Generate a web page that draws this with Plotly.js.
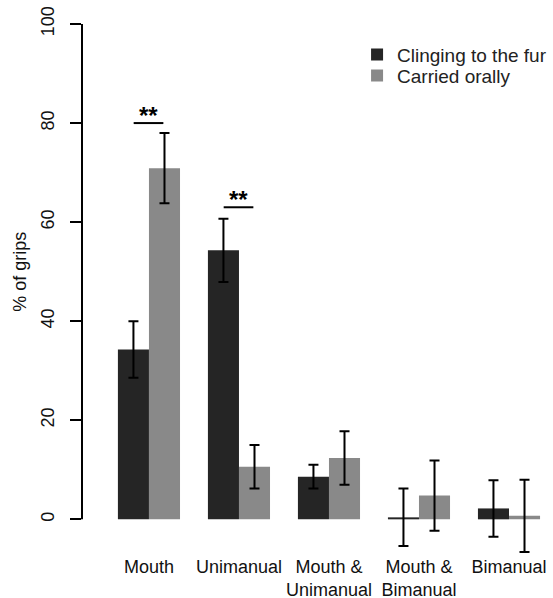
<!DOCTYPE html>
<html>
<head>
<meta charset="utf-8">
<script src="https://cdn.plot.ly/plotly-3.0.1.min.js"></script>
<style>html,body{margin:0;padding:0;background:#fff;}#chart{width:553px;height:598px;}</style>
</head>
<body>
<div id="chart"></div>
<script>
var categories = ["Mouth", "Unimanual", "Mouth &<br>Unimanual", "Mouth &<br>Bimanual", "Bimanual"];
var seriesNames = ["Clinging to the fur", "Carried orally"];
var clinging = [34.3, 54.3, 8.6, 0.4, 2.2];
var clingingErr = [5.7, 6.4, 2.4, 5.8, 5.7];
var carried = [70.9, 10.6, 12.4, 4.8, 0.7];
var carriedErr = [7.1, 4.4, 5.4, 7.1, 7.3];
var yTicks = [0, 20, 40, 60, 80, 100];
var sigCategories = [0, 1];
var sigLevels = [80, 63];
var sigLabels = ["**", "**"];

var xIdx = categories.map(function(c, i){ return i; });
var FONT = "Liberation Sans, Arial, sans-serif";

var traces = [
  {type: "bar", name: seriesNames[0], x: xIdx, y: clinging, legend: "legend",
   marker: {color: "#252525"},
   error_y: {type: "data", array: clingingErr, visible: true, color: "#000", thickness: 2, width: 5}},
  {type: "bar", name: seriesNames[1], x: xIdx, y: carried, legend: "legend2",
   marker: {color: "#898989"},
   error_y: {type: "data", array: carriedErr, visible: true, color: "#000", thickness: 2, width: 5}}
];

var shapes = [{type: "line", xref: "paper", yref: "y", x0: 0, x1: 0, y0: yTicks[0], y1: yTicks[yTicks.length-1],
  line: {color: "#000", width: 2}}];
var annotations = [{xref: "paper", yref: "y", x: 0, xshift: -62, xanchor: "center", y: 50, text: "% of grips",
  textangle: -90, showarrow: false, font: {family: FONT, size: 18, color: "#111"}}];
sigCategories.forEach(function(c, i){
  shapes.push({type: "line", xref: "x", yref: "y", x0: c - 0.17, x1: c + 0.16, y0: sigLevels[i], y1: sigLevels[i],
    line: {color: "#000", width: 2}});
  annotations.push({xref: "x", yref: "y", x: c, y: sigLevels[i], yanchor: "bottom", yshift: -8, text: "<b>" + sigLabels[i] + "</b>",
    showarrow: false, font: {family: FONT, size: 24, color: "#000"}});
});

var legendCommon = {xanchor: "left", yanchor: "top", bgcolor: "rgba(0,0,0,0)",
  font: {family: FONT, size: 19, color: "#222"}, itemwidth: 30};

var layout = {
  width: 553, height: 598,
  margin: {l: 82, r: 0, t: 24, b: 44},
  paper_bgcolor: "#fff", plot_bgcolor: "#fff",
  font: {family: FONT, size: 18, color: "#111"},
  barmode: "group", bargap: 0.31, bargroupgap: 0,
  showlegend: true,
  legend: Object.assign({x: 0.584, y: 0.978}, legendCommon),
  legend2: Object.assign({x: 0.584, y: 0.9385}, legendCommon),
  xaxis: {range: [-0.744, 4.489], tickvals: xIdx, ticktext: categories, showline: false, zeroline: false,
    showgrid: false, ticks: "", tickangle: 0, automargin: false, tickfont: {size: 18, color: "#111"}},
  yaxis: {range: [-7, 100], tickvals: yTicks, ticks: "outside", ticklen: 11, tickwidth: 2, tickcolor: "#000",
    showline: false, zeroline: false, showgrid: false, tickangle: -90, ticklabelstandoff: 9, automargin: false,
    tickfont: {size: 18, color: "#111"}},
  shapes: shapes,
  annotations: annotations
};

Plotly.newPlot("chart", traces, layout, {displayModeBar: false, staticPlot: true});
</script>
</body>
</html>
